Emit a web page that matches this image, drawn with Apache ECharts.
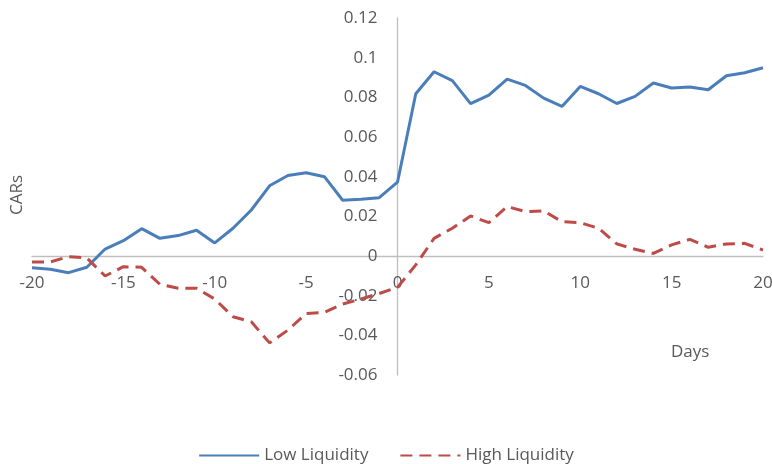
<!DOCTYPE html>
<html>
<head>
<meta charset="utf-8">
<script src="https://cdn.jsdelivr.net/npm/echarts@6/dist/echarts.min.js"></script>
<style>html,body{margin:0;padding:0;background:#fff}#c{width:772px;height:464px}</style>
</head>
<body>
<div id="c"></div>
<script>
const days = [-20,-19,-18,-17,-16,-15,-14,-13,-12,-11,-10,-9,-8,-7,-6,-5,-4,-3,-2,-1,0,1,2,3,4,5,6,7,8,9,10,11,12,13,14,15,16,17,18,19,20];
const lowLiquidity = [-0.0059,-0.0067,-0.0084,-0.0057,0.0035,0.0077,0.0138,0.0089,0.0103,0.013,0.0066,0.014,0.0232,0.0354,0.0406,0.042,0.040,0.0281,0.0286,0.0294,0.0372,0.0818,0.0929,0.0884,0.0768,0.0811,0.0892,0.086,0.0796,0.0754,0.0855,0.0818,0.0769,0.0805,0.0872,0.0847,0.0852,0.0838,0.0909,0.0924,0.0949];
const highLiquidity = [-0.003,-0.003,-0.0003,-0.001,-0.0101,-0.0054,-0.0057,-0.0143,-0.0163,-0.0163,-0.0217,-0.0306,-0.0332,-0.0438,-0.0374,-0.029,-0.0284,-0.0242,-0.0217,-0.0189,-0.0158,-0.0045,0.0089,0.014,0.0202,0.0168,0.0249,0.0224,0.0227,0.0173,0.0168,0.014,0.0061,0.0034,0.0013,0.0056,0.0084,0.0044,0.0061,0.0064,0.003];
const seriesNames = ['Low Liquidity','High Liquidity'];
const yTitle = 'CARs';
const xTitle = 'Days';

const font = 'Open Sans, Noto Sans, sans-serif';
const txt = '#595959';
const W = 772, H = 464;
const G = {left:32, right:9, top:18, bottom:89};
const xMin = -20, xMax = 20, yMin = -0.06, yMax = 0.12;
const plotW = W - G.left - G.right, plotH = H - G.top - G.bottom;
// offsets so that the axes cross at zero (like the reference)
const xAxisOffset = -plotH * (0 - yMin) / (yMax - yMin);
const yAxisOffset = -plotW * (0 - xMin) / (xMax - xMin);

const chart = echarts.init(document.getElementById('c'), null, {renderer:'canvas'});
chart.setOption({
  animation:false,
  backgroundColor:'#fff',
  grid:{left:G.left, right:G.right, top:G.top, bottom:G.bottom, containLabel:false, outerBoundsMode:'none'},
  xAxis:{type:'value', min:xMin, max:xMax, interval:5, position:'bottom', offset:xAxisOffset,
    axisLine:{onZero:false, lineStyle:{color:'#bfbfbf', width:1.3}},
    axisTick:{show:false}, splitLine:{show:false},
    axisLabel:{color:txt, fontSize:17, fontFamily:font, margin:19}},
  yAxis:{type:'value', min:yMin, max:yMax, interval:0.02, position:'left', offset:yAxisOffset,
    axisLine:{show:true, onZero:false, lineStyle:{color:'#bfbfbf', width:1.3}},
    axisTick:{show:false}, splitLine:{show:false},
    axisLabel:{color:txt, fontSize:17, fontFamily:font, margin:20}},
  legend:{top:447, left:'center', itemWidth:60, itemHeight:14, itemGap:31, padding:0,
    itemStyle:{opacity:0},
    textStyle:{color:txt, fontSize:17, fontFamily:font},
    data:seriesNames},
  graphic:[
    {type:'text', x:17, y:195, rotation:Math.PI/2, style:{text:yTitle, fill:txt, font:'17px '+font, align:'center', verticalAlign:'middle'}},
    {type:'text', x:671, y:352, style:{text:xTitle, fill:txt, font:'17px '+font, align:'left', verticalAlign:'middle'}}
  ],
  series:[
    {name:seriesNames[0], type:'line', symbol:'none', smooth:false,
     lineStyle:{color:'#4a7ebb', width:3}, itemStyle:{color:'#4a7ebb'},
     data:days.map((d,i)=>[d, lowLiquidity[i]])},
    {name:seriesNames[1], type:'line', symbol:'none', smooth:false,
     lineStyle:{color:'#be4b48', width:3, type:[12,7]}, itemStyle:{color:'#be4b48'},
     data:days.map((d,i)=>[d, highLiquidity[i]])}
  ]
});
</script>
</body>
</html>
